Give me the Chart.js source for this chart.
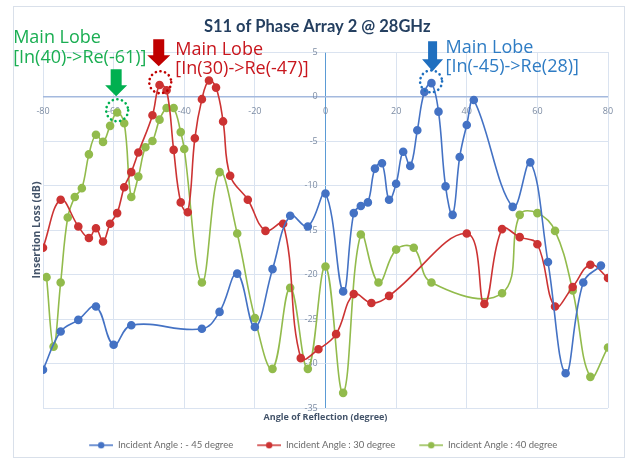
<!DOCTYPE html>
<html>
<head>
<meta charset="utf-8">
<script src="https://cdn.jsdelivr.net/npm/chart.js@4.4.0/dist/chart.umd.min.js"></script>
<style>
  html, body { margin: 0; padding: 0; background: #fff; }
</style>
</head>
<body>
<canvas id="canvas" width="628" height="464"></canvas>
<script>
// series names (legend)
const seriesNames = ['Incident Angle : - 45 degree', 'Incident Angle : 30 degree', 'Incident Angle : 40 degree'];
const seriesColors = ['#4472c4', '#cc3333', '#92bb4c'];

// angle of reflection (x) and insertion loss (y)
const blueX = [-80, -75, -70, -65, -60, -55, -35, -30, -25, -20, -15, -10, -5, 0, 5, 8, 10, 12, 14, 16, 18, 20, 22, 24, 26, 28, 30, 32, 34, 36, 38, 40, 42, 53, 58, 63, 68, 73, 78];
const blueY = [-30.7, -26.4, -25.1, -23.6, -27.9, -25.7, -26.1, -24.2, -19.9, -25.9, -19.4, -13.4, -14.6, -10.9, -21.9, -13.1, -12.3, -11.9, -8.1, -7.5, -11.6, -9.8, -6.2, -7.8, -3.8, 0.5, 1.5, -1.7, -10.1, -13.3, -6.8, -3.2, -0.4, -12.4, -7.4, -18.6, -31.1, -20.9, -19.0];

const redX = [-80, -75, -70, -67, -65, -63, -61, -59, -57, -55, -53, -49, -47, -45, -43, -41, -39, -37, -35, -33, -31, -29, -27, -22, -17, -12, -7, -2, 3, 8, 13, 18, 40, 45, 50, 55, 60, 65, 70, 75, 80];
const redY = [-17.0, -11.6, -14.6, -15.9, -14.8, -16.3, -14.3, -13.1, -10.2, -8.5, -6.3, -2.1, 1.3, 0.7, -6.0, -11.9, -13.0, -4.7, -0.3, 1.8, 1.0, -2.8, -8.9, -11.6, -15.1, -14.3, -29.4, -28.4, -26.7, -22.2, -23.2, -22.4, -15.4, -23.3, -14.9, -15.8, -16.6, -23.6, -21.4, -18.9, -20.4];

const greenX = [-79, -77, -75, -73, -71, -69, -67, -65, -63, -61, -59, -57, -55, -53, -51, -49, -47, -45, -43, -41, -40, -35, -30, -25, -20, -15, -10, -5, 0, 5, 10, 15, 20, 25, 30, 50, 55, 60, 65, 70, 75, 80];
const greenY = [-20.3, -28.1, -20.9, -13.6, -11.3, -10.3, -6.5, -4.3, -5.1, -3.3, -1.8, -3.0, -11.3, -9.0, -5.7, -5.0, -2.6, -1.3, -1.3, -4.0, -5.9, -20.9, -8.5, -15.4, -24.9, -30.6, -21.5, -30.6, -19.1, -33.3, -15.5, -20.9, -17.2, -17.0, -20.9, -22.1, -13.3, -13.1, -15.1, -21.8, -31.5, -28.2];

// main lobe call-outs: circle centre in data units, rest in pixels from it
const lobeNotes = [
  { x: -59, y: -1.55, color: '#1aae52', arrow: '#00b050', lines: ['Main Lobe', '[In(40)->Re(-61)]'],
    ax: -1, top: -41, head: -25, tip: -14, sw: 11, hw: 22, tx: -104, b1: -67, b2: -47 },
  { x: -46.8, y: 1.6, color: '#c8161d', arrow: '#c00000', lines: ['Main Lobe', '[In(30)->Re(-47)]'],
    ax: -1.5, top: -43, head: -27, tip: -16, sw: 11, hw: 23, tx: 15, b1: -27, b2: -8 },
  { x: 29.9, y: 1.7, color: '#2e7cc4', arrow: '#1f6fbf', lines: ['Main Lobe', '[In(-45)->Re(28)]'],
    ax: 1.5, top: -40, head: -22, tip: -10, sw: 9, hw: 21, tx: 14.5, b1: -28, b2: -9 }
];

function toPoints(xs, ys) {
  return xs.map((x, i) => ({ x: x, y: ys[i] }));
}

// line+dot swatch for the legend (left part left blank as spacing)
function swatch(color) {
  const c = document.createElement('canvas');
  c.width = 36; c.height = 8;
  const g = c.getContext('2d');
  g.strokeStyle = color; g.lineWidth = 1.5;
  g.beginPath(); g.moveTo(12, 4); g.lineTo(36, 4); g.stroke();
  g.fillStyle = color;
  g.beginPath(); g.arc(24, 4, 3.2, 0, Math.PI * 2); g.fill();
  return c;
}

const tickFont = { family: 'Open Sans', size: 9 };
const tickColor = '#7d8ca3';
const gridColor = '#dae3f0';

const framePlugin = {
  id: 'frameAndNotes',
  beforeDraw(chart) {
    const ctx = chart.ctx;
    ctx.save();
    ctx.fillStyle = '#fff';
    ctx.fillRect(0, 0, chart.width, chart.height);
    ctx.strokeStyle = '#d9e0ea';
    ctx.lineWidth = 1;
    ctx.strokeRect(13.5, 6.5, 611, 451);
    ctx.restore();
  },
  afterDraw(chart) {
    const ctx = chart.ctx;
    const xs = chart.scales.x, ys = chart.scales.y;
    lobeNotes.forEach(n => {
      const cx = xs.getPixelForValue(n.x);
      const cy = ys.getPixelForValue(n.y);
      ctx.save();
      // dotted ring
      ctx.strokeStyle = n.arrow;
      ctx.lineWidth = 2.6;
      ctx.lineCap = 'round';
      ctx.setLineDash([0.1, 4.6]);
      ctx.beginPath();
      ctx.arc(cx, cy, 11, 0, Math.PI * 2);
      ctx.stroke();
      ctx.setLineDash([]);
      // block arrow
      const axp = cx + n.ax;
      ctx.fillStyle = n.arrow;
      ctx.beginPath();
      ctx.moveTo(axp - n.sw / 2, cy + n.top);
      ctx.lineTo(axp + n.sw / 2, cy + n.top);
      ctx.lineTo(axp + n.sw / 2, cy + n.head);
      ctx.lineTo(axp + n.hw / 2, cy + n.head);
      ctx.lineTo(axp, cy + n.tip);
      ctx.lineTo(axp - n.hw / 2, cy + n.head);
      ctx.lineTo(axp - n.sw / 2, cy + n.head);
      ctx.closePath();
      ctx.fill();
      // label
      ctx.fillStyle = n.color;
      ctx.font = '18px "Open Sans"';
      ctx.textAlign = 'left';
      ctx.textBaseline = 'alphabetic';
      ctx.fillText(n.lines[0], cx + n.tx, cy + n.b1);
      ctx.fillText(n.lines[1], cx + n.tx, cy + n.b2);
      ctx.restore();
    });
  }
};

const ctx = document.getElementById('canvas');
new Chart(ctx, {
  type: 'line',
  data: {
    datasets: [
      { label: seriesNames[0], data: toPoints(blueX, blueY) },
      { label: seriesNames[1], data: toPoints(redX, redY) },
      { label: seriesNames[2], data: toPoints(greenX, greenY) }
    ].map((d, i) => Object.assign(d, {
      borderColor: seriesColors[i],
      backgroundColor: seriesColors[i],
      pointBackgroundColor: seriesColors[i],
      pointBorderColor: seriesColors[i],
      borderWidth: 1.6,
      pointRadius: 3.5,
      pointHoverRadius: 3.5,
      tension: 0.4,
      fill: false
    }))
  },
  options: {
    responsive: false,
    animation: false,
    layout: { padding: { left: 26.4, right: 20, top: 8, bottom: 4 } },
    plugins: {
      title: {
        display: true,
        text: 'S11 of Phase Array 2 @ 28GHz',
        color: '#243f60',
        font: { family: 'Lato', size: 16.5, weight: 'bold' },
        padding: { top: 9, bottom: 15.2 }
      },
      legend: {
        position: 'bottom',
        labels: {
          usePointStyle: true,
          pointStyleWidth: 36,
          boxHeight: 8,
          color: '#6b6b6b',
          font: { family: 'Lato', size: 9.5 },
          padding: 12,
          generateLabels(chart) {
            return chart.data.datasets.map((d, i) => ({
              text: d.label,
              fillStyle: seriesColors[i],
              strokeStyle: seriesColors[i],
              fontColor: '#6b6b6b',
              lineWidth: 0,
              pointStyle: swatch(seriesColors[i]),
              hidden: false,
              datasetIndex: i
            }));
          }
        }
      },
      tooltip: { enabled: false }
    },
    scales: {
      x: {
        type: 'linear', position: 'bottom', min: -80, max: 80,
        ticks: { display: false, stepSize: 20 },
        grid: { color: c => (c.tick && c.tick.value === 0 ? '#5b9bd5' : gridColor), drawTicks: false },
        border: { display: false },
        title: { display: true, text: 'Angle of Reflection (degree)', color: '#44546a',
                 font: { family: 'Open Sans', size: 9, weight: 'bold' }, padding: { top: 3.6, bottom: 6.1 } }
      },
      y: {
        type: 'linear', position: 'left', min: -35, max: 5,
        ticks: { display: false, stepSize: 5 },
        grid: {
          color: c => (c.tick && c.tick.value === 0 ? '#a4b9de' : gridColor),
          lineWidth: c => (c.tick && c.tick.value === 0 ? 1.6 : 1),
          drawTicks: false
        },
        border: { display: false },
        title: { display: true, text: 'Insertion Loss (dB)', color: '#44546a',
                 font: { family: 'Open Sans', size: 10.5, weight: 'bold' }, padding: { top: 4, bottom: 0 } }
      },
      xZero: {
        type: 'linear', axis: 'x', position: { y: 0 }, min: -80, max: 80,
        ticks: { stepSize: 20, color: tickColor, font: tickFont, padding: 10 },
        grid: { display: false, drawTicks: false },
        border: { display: false }
      },
      yZero: {
        type: 'linear', axis: 'y', position: { x: -2.2 }, min: -35, max: 5,
        ticks: { stepSize: 5, color: tickColor, font: tickFont },
        grid: { display: false, drawTicks: false },
        border: { display: false }
      }
    }
  },
  plugins: [framePlugin]
});
</script>
</body>
</html>
